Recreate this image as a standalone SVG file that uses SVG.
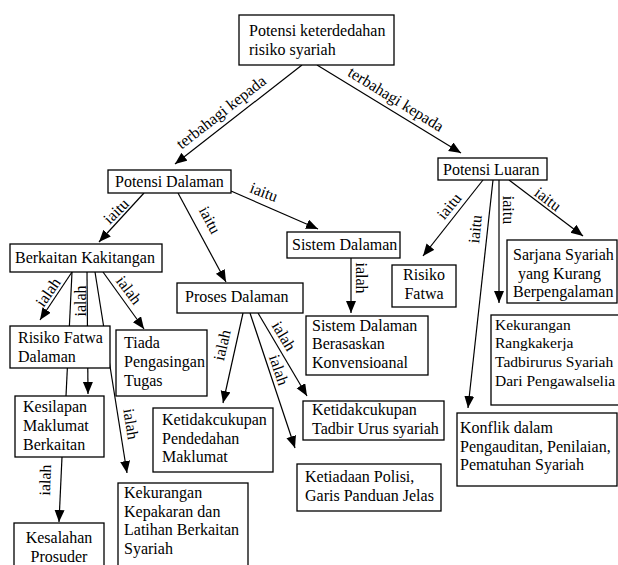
<svg xmlns="http://www.w3.org/2000/svg" width="618" height="565" viewBox="0 0 618 565">
<defs>
<marker id="ah" markerUnits="userSpaceOnUse" markerWidth="13" markerHeight="11" refX="12" refY="5" orient="auto">
<path d="M0,0 L12,5 L0,10 z" fill="#000"/>
</marker>
<style>
.c line{stroke:#000;stroke-width:1.2;fill:none}
.c line.a{marker-end:url(#ah)}
.n rect{fill:#fff;stroke:#000;stroke-width:1.3}
text{font-family:"Liberation Serif","Times New Roman",serif;font-size:16px;fill:#000}
.lb{text-anchor:middle;dominant-baseline:central}
.m{text-anchor:middle}
.s{font-size:15.5px}
</style>
</defs>
<rect width="618" height="565" fill="#fff"/>
<g id="connectors" class="c">
<line class="a" x1="302" y1="65" x2="175" y2="164"/>
<line class="a" x1="317" y1="65" x2="461" y2="153"/>
<line class="a" x1="144" y1="193" x2="99" y2="242"/>
<line class="a" x1="178" y1="193" x2="226" y2="282"/>
<line class="a" x1="231" y1="191" x2="318" y2="229"/>
<line class="a" x1="72" y1="272" x2="40" y2="320"/>
<line x1="72" y1="272" x2="66" y2="396"/>
<line class="a" x1="87" y1="272" x2="88" y2="394"/>
<line class="a" x1="95" y1="272" x2="127" y2="473"/>
<line class="a" x1="103" y1="272" x2="144" y2="329"/>
<line class="a" x1="62" y1="457" x2="59" y2="522"/>
<line class="a" x1="243" y1="313" x2="223" y2="403"/>
<line class="a" x1="250" y1="313" x2="295" y2="448"/>
<line class="a" x1="258" y1="313" x2="307" y2="396"/>
<line class="a" x1="351" y1="258" x2="351" y2="313"/>
<line class="a" x1="483" y1="180" x2="423" y2="256"/>
<line class="a" x1="493" y1="180" x2="468" y2="408"/>
<line class="a" x1="499" y1="180" x2="499" y2="303"/>
<line class="a" x1="509" y1="180" x2="583" y2="236"/>
<text class="lb" transform="translate(221,112) rotate(-38)">terbahagi kepada</text>
<text class="lb" transform="translate(396,99) rotate(31.5)">terbahagi kepada</text>
<text class="lb" transform="translate(116,211) rotate(-45)">iaitu</text>
<text class="lb" transform="translate(210,220) rotate(62)">iaitu</text>
<text class="lb" transform="translate(264,192) rotate(21)">iaitu</text>
<text class="lb" transform="translate(48,292) rotate(-55)">ialah</text>
<text class="lb" transform="translate(80,301) rotate(-90)">ialah</text>
<text class="lb" transform="translate(129,290) rotate(53)">ialah</text>
<text class="lb" transform="translate(131,424) rotate(81)">ialah</text>
<text class="lb" transform="translate(45,480) rotate(-88)">ialah</text>
<text class="lb" transform="translate(222,345) rotate(-77)">ialah</text>
<text class="lb" transform="translate(279,370) rotate(71)">ialah</text>
<text class="lb" transform="translate(284,336) rotate(59)">ialah</text>
<text class="lb" transform="translate(361,278) rotate(90)">ialah</text>
<text class="lb" transform="translate(449,206) rotate(-51)">iaitu</text>
<text class="lb" transform="translate(475,229) rotate(-84)">iaitu</text>
<text class="lb" transform="translate(508,210) rotate(90)">iaitu</text>
<text class="lb" transform="translate(548,199) rotate(37)">iaitu</text>
</g>
<g id="n-top" class="n"><rect x="239" y="15" width="155" height="50"/><text x="249" y="36">Potensi keterdedahan</text><text x="249" y="55">risiko syariah</text></g>
<g id="n-dalaman" class="n"><rect x="108" y="170" width="123" height="23"/><text x="115" y="187">Potensi Dalaman</text></g>
<g id="n-luaran" class="n"><rect x="438" y="158" width="109" height="22"/><text x="443" y="175">Potensi Luaran</text></g>
<g id="n-kakitangan" class="n"><rect x="10" y="244" width="152" height="28"/><text x="15" y="263">Berkaitan Kakitangan</text></g>
<g id="n-sistem" class="n"><rect x="287" y="232" width="113" height="26"/><text x="292" y="250">Sistem Dalaman</text></g>
<g id="n-proses" class="n"><rect x="177" y="283" width="126" height="30"/><text x="185" y="302">Proses Dalaman</text></g>
<g id="n-rfd" class="n"><rect x="10" y="326" width="100" height="42"/><text x="18" y="343">Risiko Fatwa</text><text x="18" y="362">Dalaman</text></g>
<g id="n-tiada" class="n"><rect x="116" y="330" width="91" height="66"/><text x="124" y="348">Tiada</text><text x="124" y="367">Pengasingan</text><text x="124" y="386">Tugas</text></g>
<g id="n-kesilapan" class="n"><rect x="15" y="396" width="89" height="61"/><text x="23" y="412">Kesilapan</text><text x="23" y="431">Maklumat</text><text x="23" y="450">Berkaitan</text></g>
<g id="n-kesalahan" class="n"><rect x="14" y="523" width="90" height="60"/><text class="m" x="59" y="543">Kesalahan</text><text class="m" x="59" y="562">Prosuder</text></g>
<g id="n-kepakaran" class="n"><rect x="118" y="483" width="130" height="100"/><text x="124" y="498">Kekurangan</text><text x="124" y="517">Kepakaran dan</text><text x="124" y="535">Latihan Berkaitan</text><text x="124" y="554">Syariah</text></g>
<g id="n-pendedahan" class="n"><rect x="153" y="408" width="120" height="64"/><text x="162" y="425">Ketidakcukupan</text><text x="162" y="444">Pendedahan</text><text x="162" y="462">Maklumat</text></g>
<g id="n-tadbir" class="n"><rect x="303" y="401" width="141" height="39"/><text x="312" y="415">Ketidakcukupan</text><text x="312" y="434">Tadbir Urus syariah</text></g>
<g id="n-polisi" class="n"><rect x="297" y="464" width="144" height="47"/><text x="305" y="482">Ketiadaan Polisi,</text><text x="305" y="501">Garis Panduan Jelas</text></g>
<g id="n-konvensional" class="n"><rect x="306" y="316" width="122" height="59"/><text x="312" y="331">Sistem Dalaman</text><text x="312" y="349">Berasaskan</text><text x="312" y="368">Konvensioanal</text></g>
<g id="n-risikofatwa" class="n"><rect x="392" y="265" width="64" height="42"/><text class="m" x="424" y="280">Risiko</text><text class="m" x="424" y="299">Fatwa</text></g>
<g id="n-sarjana" class="n"><rect x="507" y="240" width="110" height="63"/><text x="513" y="260">Sarjana Syariah</text><text x="518" y="279">yang Kurang</text><text x="513" y="297">Berpengalaman</text></g>
<g id="n-rangkakerja" class="n"><rect x="491" y="315" width="140" height="90"/><text class="s" x="495" y="330">Kekurangan</text><text class="s" x="495" y="348">Rangkakerja</text><text class="s" x="495" y="367">Tadbirurus Syariah</text><text class="s" x="495" y="386">Dari Pengawalselia</text></g>
<g id="n-konflik" class="n"><rect x="457" y="413" width="160" height="73"/><text x="460" y="433">Konflik dalam</text><text x="460" y="452">Pengauditan, Penilaian,</text><text x="460" y="470">Pematuhan Syariah</text></g>
</svg>
